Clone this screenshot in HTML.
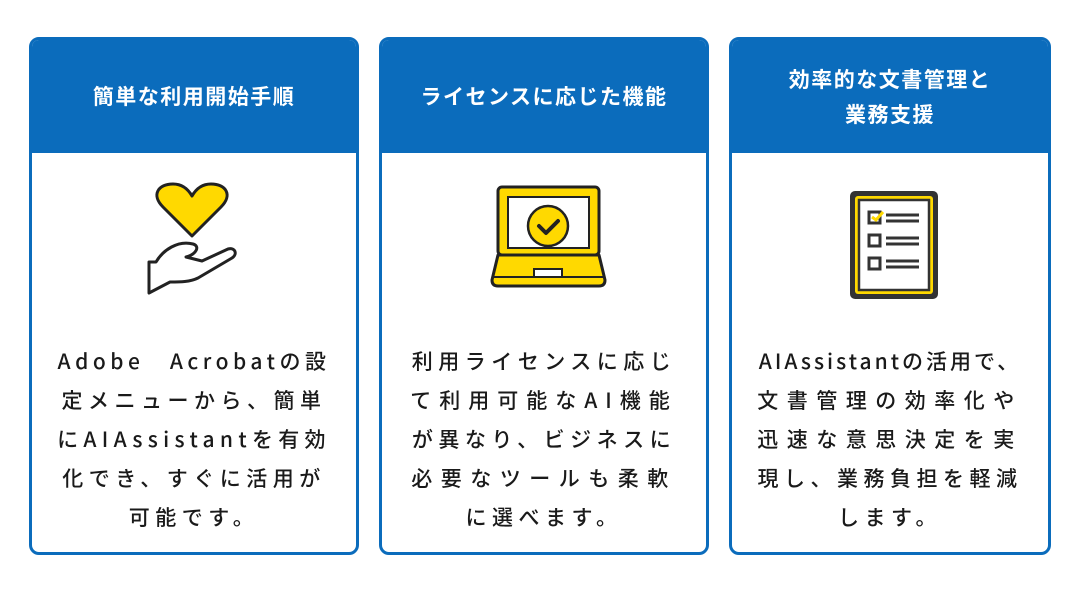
<!DOCTYPE html>
<html><head><meta charset="utf-8"><style>
body{margin:0;width:1080px;height:597px;background:#fff;position:relative;overflow:hidden;font-family:"Noto Sans CJK JP","Liberation Sans",sans-serif}
.card{position:absolute;top:37px;height:512px;border:3px solid #0b6cbc;border-radius:10px;box-sizing:content-box;overflow:hidden;background:#fff}
.hd{position:absolute;left:0;top:0;right:0;height:113px;background:#0b6cbc;color:#fff;font-weight:bold;font-size:21px;letter-spacing:1.5px;display:flex;align-items:center;justify-content:center;text-align:center;line-height:35px}
.tx{position:absolute;top:302px;left:0;right:0;font-size:21px;color:#1a1a1a;font-weight:500;line-height:39px;text-align:center;letter-spacing:5.5px}
.tx div{white-space:nowrap}
svg{position:absolute}
</style></head><body>
<div class="card" style="left:29px;width:324px">
 <div class="hd">簡単な利用開始手順</div>
 <svg style="left:0;top:0" width="324" height="300" viewBox="0 0 324 300">
  <path d="M160 196 L131 167 C119 155 126 144 141 144 C150 144 156 149 160 156 C164 149 170 144 179 144 C194 144 201 155 189 167 Z" fill="#ffd900" stroke="#222" stroke-width="3" stroke-linejoin="round"/>
  <path d="M117 222 L124 222 C131 210 146 200 161 204 C168 206 165 214 154 217 L170 221 L196 209 C203 207 206 214 200 218 L166 238 C158 242 148 242 138 242 L117 253 Z" fill="none" stroke="#222" stroke-width="3" stroke-linejoin="round"/>
 </svg>
 <div class="tx"><div style="letter-spacing:4.5px">Adobe　Acrobatの設</div><div>定メニューから、簡単</div><div style="letter-spacing:5.3px">にAIAssistantを有効</div><div>化でき、すぐに活用が</div><div>可能です。</div></div>
</div>
<div class="card" style="left:379px;width:324px">
 <div class="hd">ライセンスに応じた機能</div>
 <svg style="left:0;top:0" width="324" height="300" viewBox="0 0 324 300">
  <rect x="116" y="147" width="101" height="68" rx="4" fill="#ffd900" stroke="#222" stroke-width="3"/>
  <rect x="126" y="157" width="81" height="51" fill="#fff" stroke="#222" stroke-width="2"/>
  <path d="M116 215 L217 215 L223 240 C223 244 221 246 217 246 L116 246 C112 246 110 244 110 240 Z" fill="#ffd900" stroke="#222" stroke-width="3" stroke-linejoin="round"/>
  <line x1="112" y1="237" x2="221" y2="237" stroke="#222" stroke-width="2"/>
  <rect x="152" y="229" width="28" height="8" fill="#fff" stroke="#222" stroke-width="2"/>
  <circle cx="166" cy="186" r="20" fill="#ffd900" stroke="#222" stroke-width="2.5"/>
  <path d="M157 186 L164 193 L176 181" fill="none" stroke="#222" stroke-width="4" stroke-linejoin="round" stroke-linecap="round"/>
 </svg>
 <div class="tx"><div>利用ライセンスに応じ</div><div style="letter-spacing:8px">て利用可能なAI機能</div><div>が異なり、ビジネスに</div><div style="letter-spacing:8.5px">必要なツールも柔軟</div><div>に選べます。</div></div>
</div>
<div class="card" style="left:729px;width:316px">
 <div class="hd">効率的な文書管理と<br>業務支援</div>
 <svg style="left:0;top:0" width="316" height="300" viewBox="0 0 316 300">
  <rect x="118" y="151" width="88" height="108" rx="5" fill="#333"/>
  <rect x="123" y="156" width="78" height="98" rx="3" fill="#ffd900"/>
  <rect x="127" y="160" width="70" height="90" fill="#fff" stroke="#333" stroke-width="2.5"/>
  <g fill="none" stroke="#333" stroke-width="3">
   <rect x="137" y="172" width="11" height="11"/><rect x="137" y="195" width="11" height="11"/><rect x="137" y="218" width="11" height="11"/>
   <path d="M154 175h33M154 181h33M154 198h33M154 204h33M154 221h33M154 227h33"/>
  </g>
  <path d="M140 177 L144 180 L151 172" fill="none" stroke="#ffd900" stroke-width="3"/>
 </svg>
 <div class="tx"><div style="letter-spacing:3px">AIAssistantの活用で、</div><div style="letter-spacing:8.5px">文書管理の効率化や</div><div style="letter-spacing:8.5px">迅速な意思決定を実</div><div>現し、業務負担を軽減</div><div>します。</div></div>
</div>
</body></html>
